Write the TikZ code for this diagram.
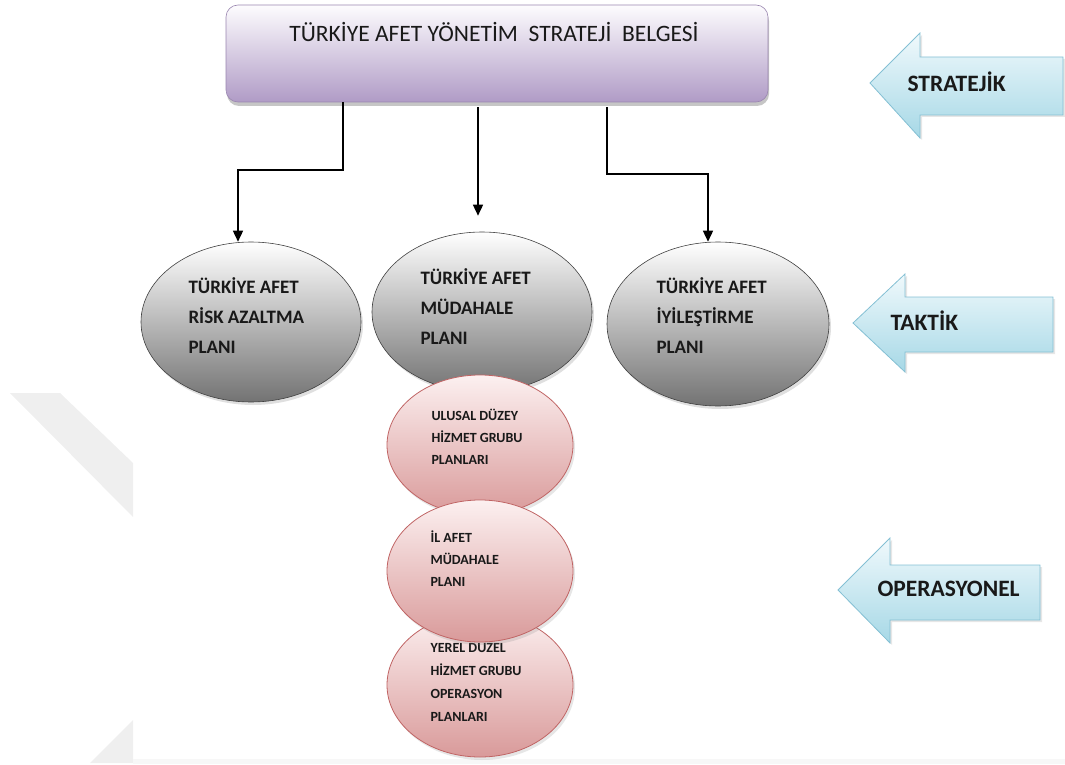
\documentclass[tikz,border=0pt]{standalone}
\usepackage{fontspec}
\setmainfont{Carlito}
\usetikzlibrary{shapes.geometric,shadows,arrows.meta,calc}

\definecolor{boxtop}{HTML}{FDFCFE}
\definecolor{boxbot}{HTML}{B09BC6}
\definecolor{boxedge}{HTML}{9A86B0}
\definecolor{subtop}{HTML}{FCF0F0}
\definecolor{subbot}{HTML}{D99A9A}
\definecolor{subedge}{HTML}{C06464}
\definecolor{lvltop}{HTML}{F0F9FC}
\definecolor{lvlbot}{HTML}{A6D8E6}
\definecolor{lvledge}{HTML}{84C0D4}
\definecolor{wmark}{HTML}{EFEFEF}

\begin{document}
\begin{tikzpicture}[x=1pt,y=-1pt,
  conn/.style={line width=1.5pt,-{Triangle[width=10pt,length=11pt]}},
  plan/.style={ellipse,draw=black!75,line width=0.6pt,top color=white,bottom color=black!55,
    drop shadow={shadow xshift=2pt,shadow yshift=-3pt,opacity=0.25}},
  sub/.style={ellipse,draw=subedge,line width=0.8pt,top color=subtop,bottom color=subbot,
    minimum width=186pt,drop shadow={shadow xshift=2pt,shadow yshift=-3pt,opacity=0.2}},
  ptxt/.style={font=\bfseries\fontsize{19}{30}\selectfont,align=left,anchor=west,text=black!90},
  stxt/.style={font=\bfseries\fontsize{14}{22}\selectfont,align=left,anchor=west,text=black!90},
  level/.style={draw=lvledge,line width=0.8pt,top color=lvltop,bottom color=lvlbot,
    drop shadow={shadow xshift=2pt,shadow yshift=-2pt,opacity=0.2}},
  ltxt/.style={font=\bfseries\fontsize{23.5}{26}\selectfont,anchor=west,text=black!90}
]
\useasboundingbox (0,0) rectangle (1065,765);

% faint background watermark
\fill[wmark] (10,393) -- (60,393) -- (133,463) -- (133,517) -- cycle;
\fill[wmark] (90,763) -- (133,720) -- (133,763) -- cycle;
\fill[wmark!50!white] (133,759) rectangle (1065,764);

% strategy document box
\node[draw=boxedge,line width=0.6pt,rounded corners=12pt,top color=boxtop,bottom color=boxbot,
  minimum width=542pt,minimum height=97pt,
  drop shadow={shadow xshift=1pt,shadow yshift=-4pt,opacity=0.45}] (belge) at (497,53.5) {};
\node[font=\fontsize{23.5}{26}\selectfont,text=black!90] (belgetxt) at (494,32)
  {TÜRKİYE AFET YÖNETİM\ \ STRATEJİ\ \ BELGESİ};

% tactical plans
\node[plan,minimum width=220pt,minimum height=160pt] (e1) at (251,322) {};
\node[plan,minimum width=220pt,minimum height=160pt] (e2) at (482,312) {};
\node[plan,minimum width=222pt,minimum height=164pt] (e3) at (718,324) {};
\node[ptxt] (t1) at (185,316) {TÜRKİYE AFET\\RİSK AZALTMA\\PLANI};
\node[ptxt] (t2) at (417,307) {TÜRKİYE AFET\\MÜDAHALE\\PLANI};
\node[ptxt] (t3) at (653,316) {TÜRKİYE AFET\\İYİLEŞTİRME\\PLANI};

% operational plans, the middle one lying over its neighbours
\node[sub,minimum height=140pt] (p1) at (480,445) {};
\node[stxt] (s1) at (428,437) {ULUSAL DÜZEY\\HİZMET GRUBU\\PLANLARI};
\node[sub,minimum height=144pt] (p3) at (480,685) {};
\node[stxt,font=\bfseries\fontsize{14}{23}\selectfont] (s3) at (427,682)
  {YEREL DUZEL\\HİZMET GRUBU\\OPERASYON\\PLANLARI};
\node[sub,minimum height=142pt] (p2) at (480,571) {};
\node[stxt] (s2) at (427,559) {İL AFET\\MÜDAHALE\\PLANI};

% connectors
\draw[conn] (belge.south -| 343,0) -- (343,170) -| ([xshift=-13pt]e1.north);
\draw[conn] ([yshift=-5pt]belge.south -| 478,0) -- ([xshift=-4pt,yshift=16pt]e2.north);
\draw[conn] ([yshift=-5pt]belge.south -| 607,0) -- (607,174) -| ([xshift=-10pt]e3.north);

% level arrows
\path[level] (870,83) -- (920,33) -- (920,57) -- (1063,57) -- (1063,115) -- (920,115) -- (920,138) -- cycle;
\node[ltxt] (l1) at (904,82) {STRATEJİK};
\path[level] (853,323) -- (905,274) -- (905,297) -- (1053,297) -- (1053,352) -- (905,352) -- (905,372) -- cycle;
\node[ltxt] (l2) at (887,321) {TAKTİK};
\path[level] (838,590) -- (890,538) -- (890,565) -- (1040,565) -- (1040,620) -- (890,620) -- (890,643) -- cycle;
\node[ltxt] (l3) at (874,589) {OPERASYONEL};
\end{tikzpicture}
\end{document}
